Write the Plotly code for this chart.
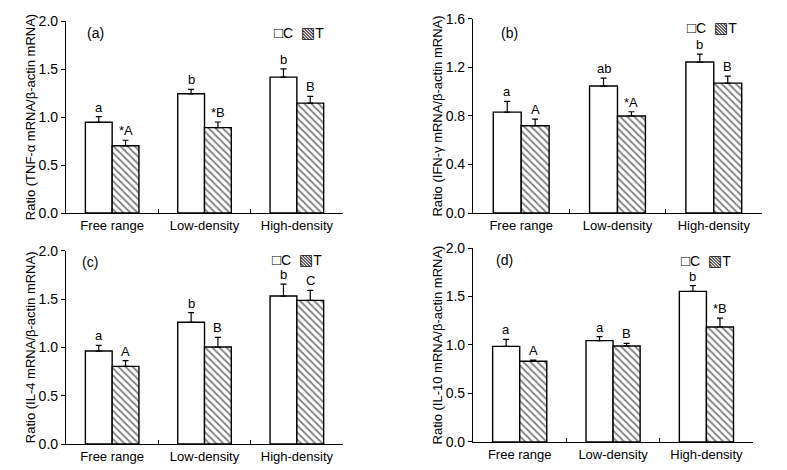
import plotly.graph_objects as go
from plotly.subplots import make_subplots

groups = ["Free range", "Low-density", "High-density"]

# (a) TNF-alpha
tnf_c = [0.945, 1.242, 1.415]
tnf_c_err = [0.058, 0.045, 0.087]
tnf_t = [0.700, 0.889, 1.145]
tnf_t_err = [0.058, 0.059, 0.070]
tnf_c_lbl = ["a", "b", "b"]
tnf_t_lbl = ["*A", "*B", "B"]

# (b) IFN-gamma
ifn_c = [0.832, 1.047, 1.245]
ifn_c_err = [0.088, 0.066, 0.065]
ifn_t = [0.720, 0.800, 1.071]
ifn_t_err = [0.055, 0.035, 0.058]
ifn_c_lbl = ["a", "ab", "b"]
ifn_t_lbl = ["A", "*A", "B"]

# (c) IL-4
il4_c = [0.962, 1.259, 1.531]
il4_c_err = [0.058, 0.100, 0.124]
il4_t = [0.803, 1.003, 1.486]
il4_t_err = [0.059, 0.100, 0.104]
il4_c_lbl = ["a", "b", "b"]
il4_t_lbl = ["A", "B", "C"]

# (d) IL-10
il10_c = [0.986, 1.045, 1.553]
il10_c_err = [0.072, 0.041, 0.059]
il10_t = [0.832, 0.990, 1.186]
il10_t_err = [0.013, 0.027, 0.092]
il10_c_lbl = ["a", "a", "b"]
il10_t_lbl = ["A", "B", "*B"]

FONT = "Arial, Liberation Sans, DejaVu Sans, sans-serif"

panels = [
    dict(tag="(a)", c=tnf_c, ce=tnf_c_err, t=tnf_t, te=tnf_t_err, cl=tnf_c_lbl, tl=tnf_t_lbl,
         ytitle="Ratio (TNF-\u03b1 mRNA/\u03b2-actin mRNA)", ymax=2.0, dtick=0.5,
         xdom=[0.0217, 0.3976], ydom=[0.5468, 0.9553], tagpos=(0.07, 0.94), legpos=(0.745, 0.94)),
    dict(tag="(b)", c=ifn_c, ce=ifn_c_err, t=ifn_t, te=ifn_t_err, cl=ifn_c_lbl, tl=ifn_t_lbl,
         ytitle="Ratio (IFN-\u03b3 mRNA/\u03b2-actin mRNA)", ymax=1.6, dtick=0.4,
         xdom=[0.574, 0.966], ydom=[0.5468, 0.9596], tagpos=(0.09, 0.928), legpos=(0.735, 0.954)),
    dict(tag="(c)", c=il4_c, ce=il4_c_err, t=il4_t, te=il4_t_err, cl=il4_c_lbl, tl=il4_t_lbl,
         ytitle="Ratio (IL-4 mRNA/\u03b2-actin mRNA)", ymax=2.0, dtick=0.5,
         xdom=[0.0217, 0.3976], ydom=[0.0553, 0.4666], tagpos=(0.05, 0.94), legpos=(0.735, 0.952)),
    dict(tag="(d)", c=il10_c, ce=il10_c_err, t=il10_t, te=il10_t_err, cl=il10_c_lbl, tl=il10_t_lbl,
         ytitle="Ratio (IL-10 mRNA/\u03b2-actin mRNA)", ymax=2.0, dtick=0.5,
         xdom=[0.574, 0.954], ydom=[0.0596, 0.4723], tagpos=(0.075, 0.938), legpos=(0.735, 0.938)),
]

# legend key drawn as text: open box for C, hatched box for T
legend_text = ('<span style="font-size:15px">\u25a1</span>C&nbsp;&nbsp;'
               '<span style="font-size:15px">\u25a7</span>T')

fig = make_subplots(rows=2, cols=2)
off = 0.145  # half a bar, in category units

for k, p in enumerate(panels):
    row, col = k // 2 + 1, k % 2 + 1
    err_style = dict(type="data", symmetric=False, arrayminus=[0, 0, 0],
                     color="black", thickness=1.2, width=3)
    fig.add_trace(go.Bar(
        x=groups, y=p["c"], name="C", offsetgroup="C",
        marker=dict(color="white", line=dict(color="black", width=1.4)),
        error_y=dict(array=p["ce"], **err_style), showlegend=False
    ), row=row, col=col)
    fig.add_trace(go.Bar(
        x=groups, y=p["t"], name="T", offsetgroup="T",
        marker=dict(color="white", line=dict(color="black", width=1.4),
                    pattern=dict(shape="\\", fgcolor="black", bgcolor="white",
                                 size=5, solidity=0.35)),
        error_y=dict(array=p["te"], **err_style), showlegend=False
    ), row=row, col=col)

    xr = "x" if k == 0 else f"x{k + 1}"
    yr = "y" if k == 0 else f"y{k + 1}"

    # significance letters above the error bars
    for i in range(len(groups)):
        fig.add_annotation(x=i - off, y=p["c"][i] + p["ce"][i], xref=xr, yref=yr,
                           text=p["cl"][i], showarrow=False, yanchor="bottom",
                           font=dict(size=13, color="black", family=FONT))
        fig.add_annotation(x=i + off, y=p["t"][i] + p["te"][i], xref=xr, yref=yr,
                           text=p["tl"][i], showarrow=False, yanchor="bottom",
                           font=dict(size=13, color="black", family=FONT))

    # panel tag and legend key
    fig.add_annotation(x=p["tagpos"][0], y=p["tagpos"][1], xref=f"{xr} domain", yref=f"{yr} domain",
                       text=p["tag"], showarrow=False, xanchor="left", yanchor="middle",
                       font=dict(size=14, color="black", family=FONT))
    fig.add_annotation(x=p["legpos"][0], y=p["legpos"][1], xref=f"{xr} domain", yref=f"{yr} domain",
                       text=legend_text, showarrow=False, xanchor="left", yanchor="middle",
                       font=dict(size=14, color="black", family=FONT))

    fig.update_xaxes(domain=p["xdom"], type="category", range=[-0.5, 2.5],
                     showline=True, linecolor="black", linewidth=1.2,
                     ticks="inside", tickson="boundaries", ticklen=4, tickcolor="black",
                     showgrid=False, zeroline=False, automargin=False,
                     tickfont=dict(size=13, color="black", family=FONT),
                     row=row, col=col)
    fig.update_yaxes(domain=p["ydom"], range=[0, p["ymax"]], dtick=p["dtick"], tick0=0,
                     tickformat=".1f", showline=True, linecolor="black", linewidth=1.2,
                     ticks="outside", ticklen=4, tickcolor="black",
                     showgrid=False, zeroline=False, automargin=False,
                     tickfont=dict(size=14, color="black", family=FONT),
                     title=dict(text=p["ytitle"], standoff=0,
                                font=dict(size=13, color="black", family=FONT)),
                     row=row, col=col)

fig.update_layout(
    width=787, height=470,
    margin=dict(l=50, r=0, t=0, b=0),
    barmode="group", bargap=0.42, bargroupgap=0,
    plot_bgcolor="white", paper_bgcolor="white",
    showlegend=False,
    font=dict(family=FONT, color="black"),
)

fig.write_html("out.html", config={"displayModeBar": False},
               post_script="document.body.style.margin='0';")
